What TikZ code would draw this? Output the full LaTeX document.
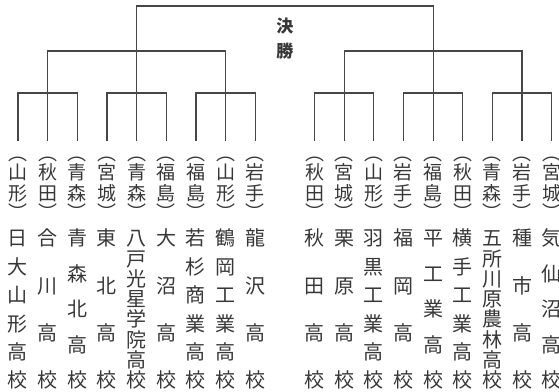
\documentclass[tikz,border=0pt]{standalone}
\usepackage{fontspec}
\newfontfamily\cjk{Noto Sans CJK JP}
\usetikzlibrary{calc}
\definecolor{inkline}{gray}{0.28}
\definecolor{inktext}{gray}{0.22}
% one character in a fixed cell, for vertical text
\newcommand\tatechar[1]{\hbox to 1em{\hss\vrule height .88em depth .12em width 0pt #1\hss}}
\def\tatefirst#1{\tatechar{#1}\tatenext}
\def\tatenext#1{\ifx\relax#1\else\vfill\tatechar{#1}\expandafter\tatenext\fi}
\newcommand\tate[1]{\vbox to 159.6pt{\offinterlineskip\expandafter\tatefirst#1\relax}}
\newcommand\prefbox[2]{\vbox{\offinterlineskip\tatechar{︵}\tatechar{#1}\kern2pt\tatechar{#2}\tatechar{︶}}}
\tikzset{
    bracket/.style={draw=inkline, line width=1.2pt},
    prefname/.style={font=\cjk\fontsize{19}{19}\selectfont, text=inktext, inner sep=0pt, anchor=north},
    schoolname/.style={font=\cjk\fontsize{20}{20}\selectfont, text=inktext, inner sep=0pt, anchor=north},
    final/.style={font=\cjk\bfseries\fontsize{17}{25}\selectfont, text=inktext, align=center, inner sep=0pt},
}
\begin{document}
\begin{tikzpicture}[x=1pt, y=-1pt]
    \useasboundingbox (0,0) rectangle (559,391);
    \def \gap {29.65}
    \foreach \i in {1,...,18}{
        \pgfmathsetmacro{\xx}{18+\gap*(\i-1)+\gap*(\i>9)}
        \coordinate (l\i) at (\xx,141);}
    \coordinate (grp) at (0,93);
    \coordinate (semi) at (0,51);
    \coordinate (top) at (0,6);
    % first round
    \foreach \a/\b/\c in {1/2/3,4/5/6,7/8/9,10/11/12,13/14/15,16/17/18}{
        \draw[bracket] (l\a) |- (l\c |- grp) -- (l\c);
        \draw[bracket] (l\b) -- (l\b |- grp);}
    % semifinals and final
    \draw[bracket] (l2 |- grp) |- (l8 |- semi) -- (l8 |- grp);
    \draw[bracket] (l11 |- grp) |- (l17 |- semi) -- (l17 |- grp);
    \draw[bracket] (l5 |- grp) |- (l14 |- top) -- (l14 |- grp);
    \node[final] (win) at ($(l5 |- top)!0.5!(l14 |- top) + (0,33)$) {決\\勝};
    % schools
    \foreach \i/\pa/\pb/\s in {1/山/形/日大山形高校, 2/秋/田/合川高校, 3/青/森/青森北高校,
        4/宮/城/東北高校, 5/青/森/八戸光星学院高校, 6/福/島/大沼高校, 7/福/島/若杉商業高校,
        8/山/形/鶴岡工業高校, 9/岩/手/龍沢高校, 10/秋/田/秋田高校, 11/宮/城/栗原高校,
        12/山/形/羽黒工業高校, 13/岩/手/福岡高校, 14/福/島/平工業高校, 15/秋/田/横手工業高校,
        16/青/森/五所川原農林高校, 17/岩/手/種市高校, 18/宮/城/気仙沼高校}{
        \node[prefname] (p\i) at ($(l\i)+(0,2.5)$) {\prefbox\pa\pb};
        \node[schoolname] (s\i) at ($(l\i)+(0,87)$) {\tate\s};}
\end{tikzpicture}
\end{document}
